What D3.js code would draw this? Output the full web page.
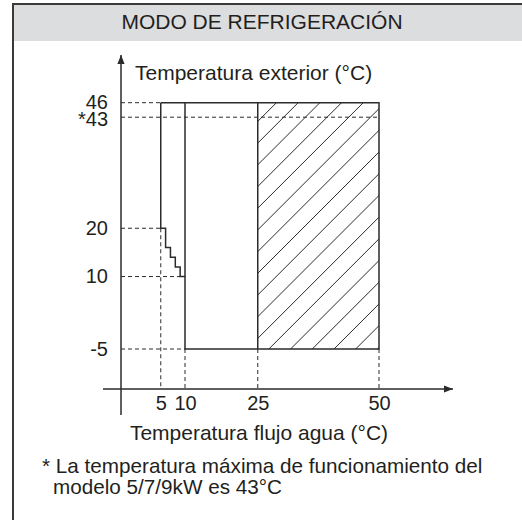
<!DOCTYPE html>
<html lang="es">
<head>
<meta charset="UTF-8">
<title>Modo de refrigeración</title>
<script src="https://d3js.org/d3.v7.min.js"></script>
<style>
  body { margin: 0; background: #fff; }
  svg { display: block; font-family: Arial, "Liberation Sans", sans-serif; }
  .lbl { fill: #231f20; font-size: 21px; }
  .note { fill: #231f20; font-size: 20.7px; }
  .tick text { fill: #231f20; font-size: 20px; font-family: Arial, "Liberation Sans", sans-serif; }
</style>
</head>
<body>
<svg id="chart" width="522" height="520"></svg>
<script>
const xTicks = [5, 10, 25, 50];
const yTicks = [-5, 10, 20, 43, 46];
const yTickLabels = {"-5": "-5", "10": "10", "20": "20", "43": "*43", "46": "46"};
// contorno de la zona de funcionamiento (agua, exterior)
const envelope = [[5, 46], [5, 20], [6, 20], [6, 16], [7, 16], [7, 14], [8, 14], [8, 12],
                  [9, 12], [9, 10], [10, 10], [10, -5], [50, -5], [50, 46], [5, 46]];
const innerLines = [[[10, 46], [10, 10]], [[25, 46], [25, -5]]];
const hatchZone = {x0: 25, x1: 50, y0: -5, y1: 46};
// guías discontinuas
const hGuides = [[46, 5], [43, 50], [20, 5], [10, 10], [-5, 10]];   // [y, hasta x]
const vGuides = [[5, 20], [10, -5], [25, -5], [50, -5]];            // [x, desde y]

const svg = d3.select("#chart");
const ink = "#2b2b2b";

const x = d3.scaleLinear().domain([0, 50]).range([136.5, 379]);
const y = d3.scaleLinear().domain([-5, 46]).range([349, 102.7]);

const axisX = 121, axisY = 389;

// marco y cabecera
svg.append("rect").attr("x", 13).attr("y", 4).attr("width", 520).attr("height", 37)
  .attr("fill", "#dcdddf");
svg.append("path").attr("d", "M13,530 V4 H530")
  .attr("fill", "none").attr("stroke", "#3a3a3a").attr("stroke-width", 2);
svg.append("text").attr("class", "lbl").attr("x", 262).attr("y", 29)
  .attr("text-anchor", "middle").text("MODO DE REFRIGERACIÓN");

svg.append("defs").append("marker").attr("id", "arr")
  .attr("viewBox", "0 0 10 10").attr("refX", 10).attr("refY", 5)
  .attr("markerWidth", 9).attr("markerHeight", 9).attr("markerUnits", "userSpaceOnUse")
  .attr("orient", "auto")
  .append("path").attr("d", "M0,1 L10,5 L0,9 Z").attr("fill", ink);

// guías
const g = svg.append("g").attr("stroke", ink).attr("stroke-width", 1)
  .attr("stroke-dasharray", "4,3").attr("fill", "none");
hGuides.forEach(([v, xe]) => {
  g.append("line").attr("x1", axisX).attr("x2", x(xe)).attr("y1", y(v)).attr("y2", y(v));
});
vGuides.forEach(([v, ys]) => {
  g.append("line").attr("x1", x(v)).attr("x2", x(v)).attr("y1", y(ys)).attr("y2", axisY);
});

// rayado
svg.append("clipPath").attr("id", "hz").append("rect")
  .attr("x", x(hatchZone.x0)).attr("y", y(hatchZone.y1))
  .attr("width", x(hatchZone.x1) - x(hatchZone.x0))
  .attr("height", y(hatchZone.y0) - y(hatchZone.y1));
const step = 21.7;
const c0 = x(hatchZone.x0) + y(hatchZone.y1) + 18.7;
const hatch = svg.append("g").attr("clip-path", "url(#hz)")
  .attr("stroke", ink).attr("stroke-width", 1);
for (let c = c0 - step * 20; c < c0 + step * 20; c += step) {
  hatch.append("line").attr("x1", c - 500).attr("y1", 500).attr("x2", c - 50).attr("y2", 50);
}

// contorno
const line = d3.line().x(d => x(d[0])).y(d => y(d[1]));
svg.append("path").attr("d", line(envelope))
  .attr("fill", "none").attr("stroke", ink).attr("stroke-width", 1.5);
innerLines.forEach(seg => {
  svg.append("path").attr("d", line(seg))
    .attr("fill", "none").attr("stroke", ink).attr("stroke-width", 1.5);
});

// ejes
svg.append("line").attr("x1", 103).attr("y1", axisY).attr("x2", 453).attr("y2", axisY)
  .attr("stroke", ink).attr("stroke-width", 1.5).attr("marker-end", "url(#arr)");
svg.append("line").attr("x1", axisX).attr("y1", 415).attr("x2", axisX).attr("y2", 55)
  .attr("stroke", ink).attr("stroke-width", 1.5).attr("marker-end", "url(#arr)");

const xa = svg.append("g").attr("transform", `translate(0,${axisY})`)
  .call(d3.axisBottom(x).tickValues(xTicks).tickSize(0).tickPadding(0));
xa.select(".domain").remove();
xa.selectAll(".tick text").attr("y", 21).attr("dy", 0);

const ya = svg.append("g").attr("transform", `translate(${axisX - 13},0)`)
  .call(d3.axisLeft(y).tickValues(yTicks).tickSize(0).tickPadding(0)
    .tickFormat(d => yTickLabels[d]));
ya.select(".domain").remove();
// separar un poco las etiquetas 46 y *43, como en el original
ya.selectAll(".tick text").attr("y", d => d === 46 ? -1 : d === 43 ? 1.5 : 0);

svg.append("text").attr("class", "lbl").attr("x", 135).attr("y", 80)
  .text("Temperatura exterior (°C)");
svg.append("text").attr("class", "lbl").attr("x", 259).attr("y", 440)
  .attr("text-anchor", "middle").text("Temperatura flujo agua (°C)");
svg.append("text").attr("class", "note").attr("x", 42).attr("y", 473)
  .text("* La temperatura máxima de funcionamiento del");
svg.append("text").attr("class", "note").attr("x", 53).attr("y", 494)
  .text("modelo 5/7/9kW es 43°C");
</script>
</body>
</html>
